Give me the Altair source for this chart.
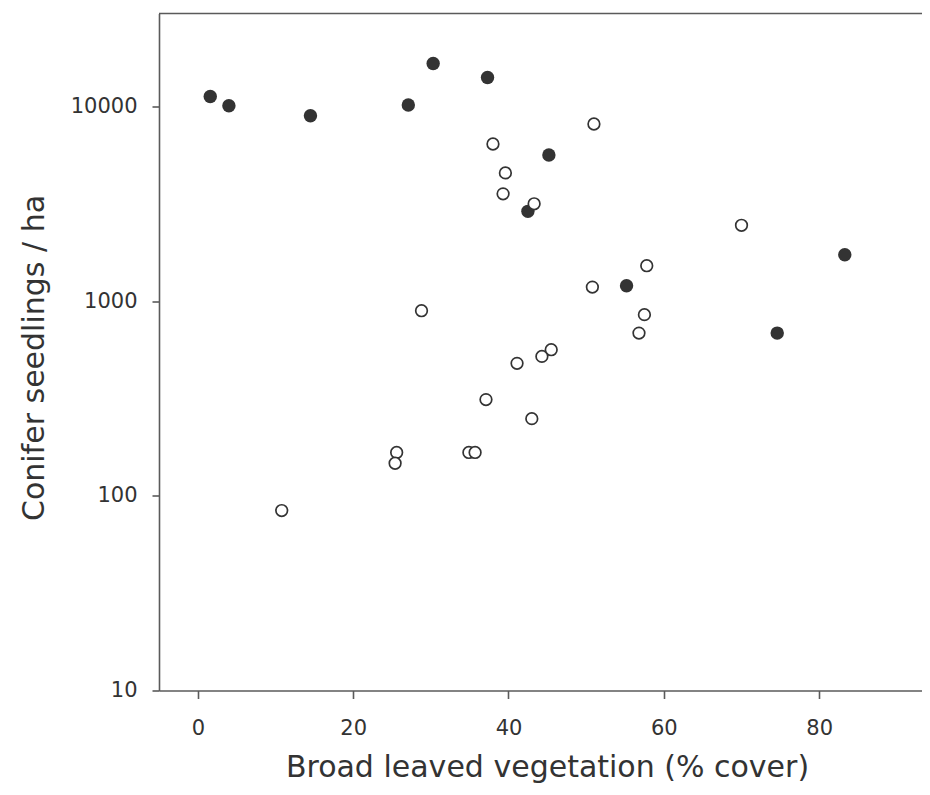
import altair as alt
import pandas as pd

# Filled circles
filled_x = [1.6, 4.0, 14.5, 27.1, 30.3, 37.3, 45.2, 42.5, 55.2, 83.3, 74.6]
filled_y = [11250, 10080, 8960, 10170, 16620, 14080, 5630, 2890, 1200, 1730, 685]

# Open circles
open_x = [51.0, 38.0, 39.6, 39.3, 43.3, 50.8, 28.8, 45.5, 44.3, 41.1, 37.1,
          43.0, 25.6, 25.4, 34.9, 35.7, 10.8, 70.0, 57.8, 57.5, 56.8]
open_y = [8120, 6410, 4555, 3555, 3160, 1180, 893, 563, 520, 479, 312,
          249, 167, 147, 167, 167, 84, 2450, 1520, 852, 685]

x_ticks = [0, 20, 40, 60, 80]
y_ticks = [10, 100, 1000, 10000]

df_f = pd.DataFrame({"x": filled_x, "y": filled_y})
df_o = pd.DataFrame({"x": open_x, "y": open_y})

W, H = 772, 677
FONT = "DejaVu Sans"
TXT = "#333333"
LINE = "#5a5a5a"

xscale = alt.Scale(domain=[-5, 94.4], nice=False, zero=False)
yscale = alt.Scale(type="log", domain=[10, 30000], nice=False)

xaxis = alt.Axis(values=x_ticks, grid=False, tickSize=8, labelPadding=36,
                 labelBaseline="alphabetic", labelFontSize=21,
                 title="Broad leaved vegetation (% cover)", titleFontSize=30,
                 titleFontWeight="normal", titleX=388, titleY=86,
                 titleBaseline="alphabetic", titleAlign="center")
yaxis = alt.Axis(values=y_ticks, format="d", grid=False, tickSize=7,
                 labelPadding=15, labelFontSize=21,
                 title="Conifer seedlings / ha", titleFontSize=30,
                 titleFontWeight="normal", titleX=-116, titleY=344,
                 titleBaseline="alphabetic", titleAlign="center", titleAngle=270)

filled = alt.Chart(df_f).mark_point(
    shape="circle", filled=True, size=180, color=TXT, opacity=1
).encode(
    x=alt.X("x:Q", scale=xscale, axis=xaxis),
    y=alt.Y("y:Q", scale=yscale, axis=yaxis),
)

opened = alt.Chart(df_o).mark_point(
    shape="circle", filled=False, size=135, stroke=TXT, strokeWidth=1.7,
    fill="white", fillOpacity=1, opacity=1
).encode(
    x=alt.X("x:Q", scale=xscale),
    y=alt.Y("y:Q", scale=yscale),
)

top_line = alt.Chart(pd.DataFrame({"a": [0]})).mark_rule(
    color=LINE, strokeWidth=1.6
).encode(x=alt.value(0), x2=alt.value(W), y=alt.value(0))

chart = alt.layer(top_line, filled, opened).properties(
    width=W, height=H,
    autosize=alt.AutoSizeParams(type="none"),
    padding={"left": 151, "top": 5.5, "right": -9, "bottom": 95},
).configure_view(stroke=None).configure_axis(
    domainColor=LINE, domainWidth=1.6, tickColor=LINE, tickWidth=1.6,
    labelColor=TXT, titleColor=TXT, labelFont=FONT, titleFont=FONT,
)

chart.save("out.html", embed_options={"renderer": "svg", "actions": False})
